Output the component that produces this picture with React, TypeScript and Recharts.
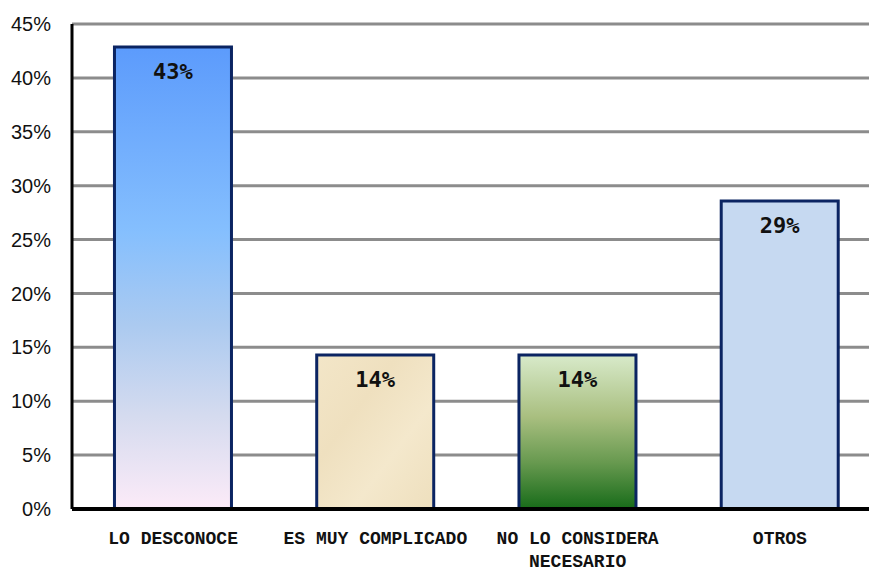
import React from 'react';
import { BarChart, Bar, XAxis, YAxis, CartesianGrid, Cell, LabelList } from 'recharts';

const categories = ['LO DESCONOCE', 'ES MUY COMPLICADO', 'NO LO CONSIDERA NECESARIO', 'OTROS'];
const shares = [42.86, 14.29, 14.29, 28.57];
const yTicks = [0, 5, 10, 15, 20, 25, 30, 35, 40, 45];
const fills = ['url(#gBlue)', 'url(#gSand)', 'url(#gGreen)', '#c6d9f1'];

const data = categories.map((name, i) => ({ name, value: shares[i] }));

// wrap a label into lines of at most `max` characters
const wrap = (text: string, max: number) => {
    const lines: string[] = [];
    let cur = '';
    text.split(' ').forEach((w) => {
        const next = cur ? cur + ' ' + w : w;
        if (next.length > max && cur) {
            lines.push(cur);
            cur = w;
        } else {
            cur = next;
        }
    });
    if (cur) lines.push(cur);
    return lines;
};

const CategoryTick = (props: any) => {
    const { x, y, payload } = props;
    const lines = wrap(payload.value, 17);
    return (
        <text x={x} y={y + 22} textAnchor="middle" dominantBaseline="middle"
            fontFamily="'Liberation Mono', 'Courier New', monospace"
            fontWeight="bold" fontSize={18} fill="#111">
            {lines.map((l, i) => (
                <tspan key={i} x={x} dy={i === 0 ? 0 : 23}>{l}</tspan>
            ))}
        </text>
    );
};

const BarValue = (props: any) => {
    const { x, y, width, value } = props;
    return (
        <text x={x + width / 2} y={y + 26} textAnchor="middle" dominantBaseline="middle"
            fontFamily="'DejaVu Sans Mono', monospace" fontWeight="bold" fontSize={22} fill="#111">
            {Math.round(value)}%
        </text>
    );
};

export default function App() {
    return (
        <div style={{ position: 'absolute', left: 0, top: 0, width: 869, height: 573, overflow: 'hidden', background: '#fff' }}>
            <BarChart width={881} height={573} data={data} margin={{ top: 24, right: 0, left: 0, bottom: 0 }}
                barCategoryGap="21%">
                <defs>
                    <linearGradient id="gBlue" x1="0" y1="0" x2="0" y2="1">
                        <stop offset="0%" stopColor="#5c9bfc" />
                        <stop offset="40%" stopColor="#85bffe" />
                        <stop offset="60%" stopColor="#abcaf0" />
                        <stop offset="80%" stopColor="#d5dbef" />
                        <stop offset="100%" stopColor="#fcebf8" />
                    </linearGradient>
                    <linearGradient id="gSand" x1="0" y1="0" x2="1" y2="1">
                        <stop offset="0%" stopColor="#f3e6c8" />
                        <stop offset="35%" stopColor="#efe0bf" />
                        <stop offset="65%" stopColor="#f4e8cc" />
                        <stop offset="100%" stopColor="#eedfbd" />
                    </linearGradient>
                    <linearGradient id="gGreen" x1="0" y1="0" x2="0" y2="1">
                        <stop offset="0%" stopColor="#d8eaca" />
                        <stop offset="40%" stopColor="#a9bf80" />
                        <stop offset="70%" stopColor="#67994f" />
                        <stop offset="100%" stopColor="#176b19" />
                    </linearGradient>
                </defs>
                <CartesianGrid vertical={false} stroke="#8c8c8c" strokeWidth={3} />
                <XAxis dataKey="name" height={64} tickLine={false} interval={0}
                    axisLine={{ stroke: '#000', strokeWidth: 4 }} tick={<CategoryTick />} />
                <YAxis width={72} domain={[0, 45]} ticks={yTicks} tickFormatter={(v) => `${v}%`}
                    tickLine={false} tickSize={6} tickMargin={15}
                    axisLine={{ stroke: '#000', strokeWidth: 3 }}
                    tick={{ fill: '#111', fontSize: 20, fontFamily: "'Liberation Sans', Arial, sans-serif" }} />
                <Bar dataKey="value" isAnimationActive={false} stroke="#0b2462" strokeWidth={3}>
                    {data.map((d, i) => (
                        <Cell key={d.name} fill={fills[i]} />
                    ))}
                    <LabelList dataKey="value" content={<BarValue />} />
                </Bar>
            </BarChart>
        </div>
    );
}
